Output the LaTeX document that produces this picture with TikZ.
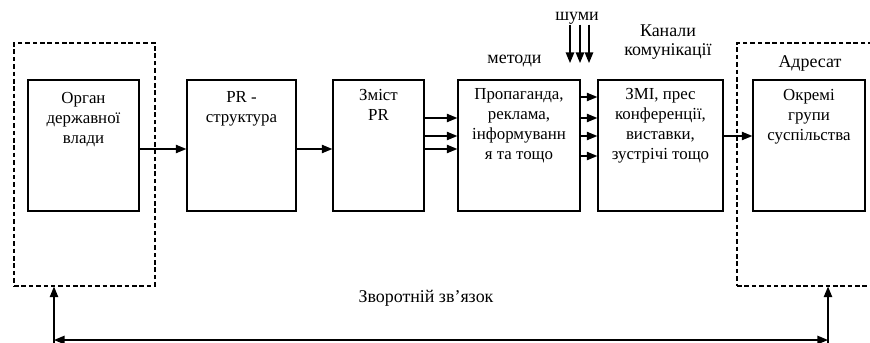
\documentclass[tikz,border=0pt]{standalone}
\usepackage{fontspec}
\setmainfont{Liberation Serif}
\usetikzlibrary{arrows.meta,positioning}
\tikzset{
  blok/.style={draw,line width=0.8pt,minimum height=2.62cm,inner sep=0pt},
  ramka/.style={draw,line width=0.7pt,dash pattern=on 2.6pt off 1.6pt,minimum height=4.86cm,inner sep=0pt},
  txt/.style={align=center,inner sep=0pt,font=\fontsize{9.6}{11.4}\selectfont},
  mitka/.style={align=center,inner sep=0pt,font=\fontsize{10.2}{11}\selectfont},
}
\begin{document}
\begin{tikzpicture}[x=0.02cm,y=-0.02cm,line width=0.7pt,>={Triangle[length=6pt,width=4.8pt]}]
            \useasboundingbox (0,0) rectangle (870,342);
            \clip (0,0) rectangle (870,342);
            % dashed frames
            \node[ramka,minimum width=2.82cm] (govframe) at (84.5,164.5) {};
            \node[ramka,minimum width=2.84cm] (addrframe) at (808,164.5) {};
            % boxes
            \node[blok,minimum width=2.22cm] (organ) at (83.5,145.5) {};
            \node[blok,minimum width=2.18cm] (struct) at (241.5,145.5) {};
            \node[blok,minimum width=1.82cm] (zmist) at (378.5,145.5) {};
            \node[blok,minimum width=2.44cm] (metody) at (519,145.5) {};
            \node[blok,minimum width=2.50cm] (kanaly) at (660.5,145.5) {};
            \node[blok,minimum width=2.24cm] (hrupy) at (809,145.5) {};
            \node[txt,below=7pt of organ.north] {Орган\\державної\\влади};
            \node[txt,below=6.5pt of struct.north] {PR -\\структура};
            \node[txt,below=5.5pt of zmist.north] {Зміст\\PR};
            \node[txt,below=5pt of metody.north] {Пропаганда,\\реклама,\\інформуванн\\я та тощо};
            \node[txt,below=5pt of kanaly.north] {ЗМІ, прес\\конференції,\\виставки,\\зустрічі тощо};
            \node[txt,below=5.5pt of hrupy.north] {Окремі\\групи\\суспільства};
            % captions
            \node[mitka] (metlabel) at (514.5,61) {методи};
            \node[mitka] (kanlabel) at (668,42) {Канали\\комунікації};
            \node[mitka] (adrlabel) at (810,63) {Адресат};
            \node[mitka] (shumy) at (577,18) {шуми};
            \node[mitka] (zvlabel) at (426,298) {Зворотній зв’язок};
            % connectors
            \draw[->] (organ.east |- 0,149) -- (struct.west |- 0,149);
            \draw[->] (struct.east |- 0,149) -- (zmist.west |- 0,149);
            \foreach \y in {118,136,149}
              \draw[->] (zmist.east |- 0,\y) -- (metody.west |- 0,\y);
            \foreach \y in {97,118,136,156}
              \draw[->] (metody.east |- 0,\y) -- (kanaly.west |- 0,\y);
            \draw[->] (kanaly.east |- 0,136) -- (hrupy.west |- 0,136);
            \foreach \x in {570,580,589}
              \draw[->] (shumy.south -| \x,0) -- (\x,63);
            % feedback
            \path (54,340) coordinate (fbl) (828,340) coordinate (fbr);
            \draw[<->] (fbl) -- (fbr);
            \draw[->] (fbl) ++(0,10) -- (govframe.south -| fbl);
            \draw[->] (fbr) ++(0,10) -- (addrframe.south -| fbr);
        \end{tikzpicture}
\end{document}
